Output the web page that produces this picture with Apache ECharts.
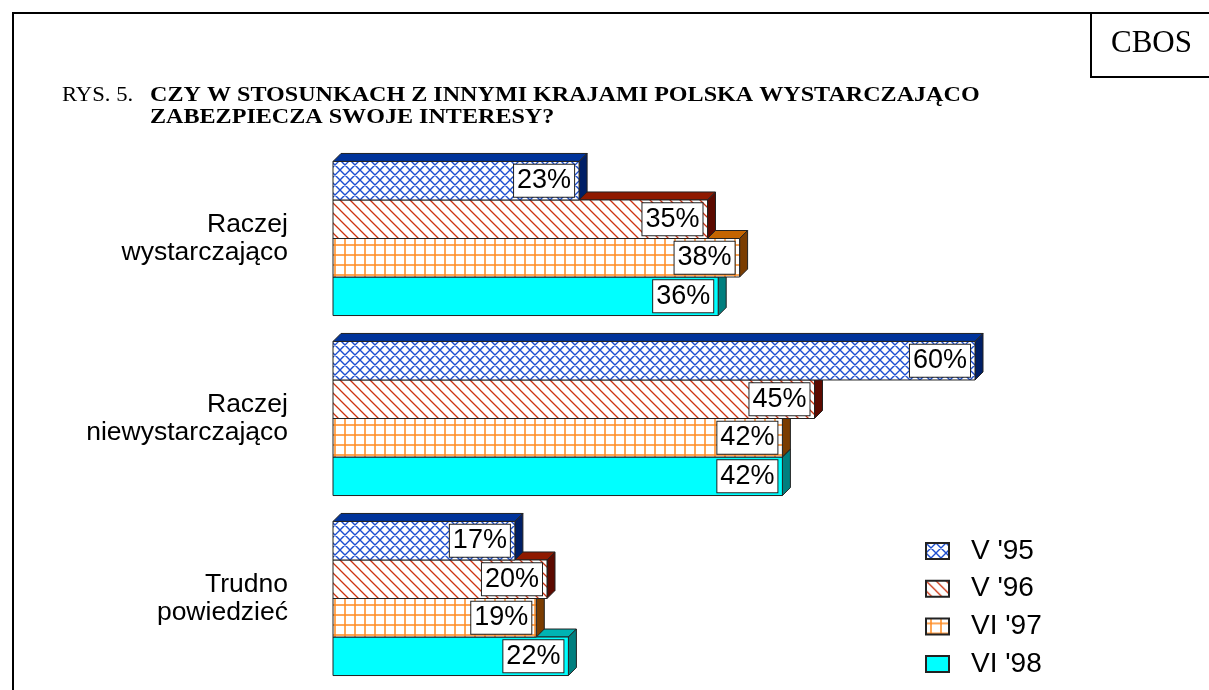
<!DOCTYPE html>
<html>
<head>
<meta charset="utf-8">
<script src="https://cdn.jsdelivr.net/npm/echarts@6/dist/echarts.min.js"></script>
<style>
  html, body { margin: 0; padding: 0; background: #fff; }
  #chart { width: 1209px; height: 690px; }
</style>
</head>
<body>
<div id="chart"></div>
<script>
// data
const categories = ['Raczej\nwystarczająco', 'Raczej\nniewystarczająco', 'Trudno\npowiedzieć'];
const seriesNames = ["V '95", "V '96", "VI '97", "VI '98"];
const v95 = [23, 60, 17];
const v96 = [35, 45, 20];
const vi97 = [38, 42, 19];
const vi98 = [36, 42, 22];

const SANS = "'Liberation Sans', Arial, sans-serif";
const SERIF = "'Liberation Serif', 'Times New Roman', serif";

// tiles for the hatched fills
function tile(w, h, draw) {
  const c = document.createElement('canvas');
  c.width = w; c.height = h;
  const ctx = c.getContext('2d');
  ctx.fillStyle = '#fff';
  ctx.fillRect(0, 0, w, h);
  draw(ctx);
  return { image: c, repeat: 'repeat' };
}

const crossFill = tile(10, 10, ctx => {
  ctx.strokeStyle = '#1d4fd0';
  ctx.lineWidth = 1.4;
  ctx.beginPath();
  for (let k = -1; k <= 1; k++) {
    ctx.moveTo(k * 10 - 1, -1); ctx.lineTo(k * 10 + 11, 11);
    ctx.moveTo(k * 10 + 11, -1); ctx.lineTo(k * 10 - 1, 11);
  }
  ctx.stroke();
});

const stripeFill = tile(10, 10, ctx => {
  ctx.strokeStyle = '#cc3311';
  ctx.lineWidth = 1.3;
  ctx.beginPath();
  for (let k = -1; k <= 1; k++) {
    ctx.moveTo(k * 10 - 1, -1); ctx.lineTo(k * 10 + 11, 11);
  }
  ctx.stroke();
});

const gridFill = tile(10, 10, ctx => {
  ctx.strokeStyle = '#ff8a1f';
  ctx.lineWidth = 1.5;
  ctx.beginPath();
  ctx.moveTo(5, 0); ctx.lineTo(5, 10);
  ctx.moveTo(0, 5); ctx.lineTo(10, 5);
  ctx.stroke();
});

const faces = [
  { fill: crossFill, top: '#00339a', side: '#001f66' },
  { fill: stripeFill, top: '#8f1a00', side: '#5c0a00' },
  { fill: gridFill, top: '#c46400', side: '#7a3c00' },
  { fill: '#00ffff', top: '#00b3b3', side: '#007f7f' }
];

function makeSeries(k, values) {
  const f = faces[k];
  return {
    type: 'custom',
    name: seriesNames[k],
    z: 10 - k,
    itemStyle: { color: f.fill, borderColor: '#222', borderWidth: 1 },
    encode: { x: 0, y: 1 },
    data: values.map((v, i) => [v, i]),
    renderItem: (params, api) => {
      const v = api.value(0);
      const c = api.value(1);
      const p0 = api.coord([0, c]);
      const p1 = api.coord([v, c]);
      const band = api.size([0, 1])[1];
      const h = band * 0.856 / 4;
      const y0 = p0[1] - 2 * h + k * h;
      const x0 = p0[0], x1 = p1[0], d = 8;
      return {
        type: 'group',
        children: [
          {
            type: 'polygon',
            shape: { points: [[x0, y0], [x0 + d, y0 - d], [x1 + d, y0 - d], [x1, y0]] },
            style: { fill: f.top, stroke: '#222', lineWidth: 1 }
          },
          {
            type: 'polygon',
            shape: { points: [[x1, y0], [x1 + d, y0 - d], [x1 + d, y0 + h - d], [x1, y0 + h]] },
            style: { fill: f.side, stroke: '#222', lineWidth: 1 }
          },
          {
            type: 'rect',
            shape: { x: x0, y: y0, width: x1 - x0, height: h },
            style: { fill: f.fill, stroke: '#222', lineWidth: 1 }
          },
          {
            type: 'text',
            style: {
              text: v + '%',
              x: x1 - 5,
              y: y0 + h / 2,
              align: 'right',
              verticalAlign: 'middle',
              fontSize: 27,
              fontFamily: SANS,
              fill: '#000',
              backgroundColor: '#fff',
              borderColor: '#222',
              borderWidth: 1,
              padding: [3, 3, 2, 3]
            }
          }
        ]
      };
    }
  };
}

const chart = echarts.init(document.getElementById('chart'));
chart.setOption({
  backgroundColor: '#fff',
  animation: false,
  grid: { left: 333, width: 642, top: 148.5, height: 540 },
  xAxis: { type: 'value', min: 0, max: 60, show: false },
  yAxis: {
    type: 'category',
    data: categories,
    inverse: true,
    axisLine: { show: false },
    axisTick: { show: false },
    splitLine: { show: false },
    axisLabel: { color: '#000', fontSize: 26.5, lineHeight: 28, fontFamily: SANS, margin: 45 }
  },
  legend: {
    orient: 'vertical',
    left: 925,
    top: 536,
    padding: 0,
    icon: 'rect',
    itemWidth: 23,
    itemHeight: 16,
    itemGap: 7.7,
    selectedMode: false,
    data: seriesNames,
    textStyle: { color: '#000', fontSize: 28, lineHeight: 30, fontFamily: SANS, padding: [0, 0, 0, 17] }
  },
  graphic: [
    { type: 'rect', shape: { x: 13, y: 13, width: 1400, height: 1000 }, style: { fill: 'none', stroke: '#000', lineWidth: 2 } },
    { type: 'rect', shape: { x: 1091, y: 13, width: 200, height: 64 }, style: { fill: '#fff', stroke: '#000', lineWidth: 2 } },
    { type: 'text', x: 1111, y: 44, style: { text: 'CBOS', fontSize: 31, fontFamily: SERIF, fill: '#000', verticalAlign: 'middle' } },
    { type: 'text', x: 62, y: 95, scaleX: 1.03, style: { text: 'RYS. 5.', fontSize: 22, fontFamily: SERIF, fill: '#000', verticalAlign: 'middle' } },
    { type: 'text', x: 150, y: 95, scaleX: 1.095, style: { text: 'CZY W STOSUNKACH Z INNYMI KRAJAMI POLSKA WYSTARCZAJĄCO', fontSize: 22, fontWeight: 'bold', fontFamily: SERIF, fill: '#000', verticalAlign: 'middle' } },
    { type: 'text', x: 150, y: 117, scaleX: 1.095, style: { text: 'ZABEZPIECZA SWOJE INTERESY?', fontSize: 22, fontWeight: 'bold', fontFamily: SERIF, fill: '#000', verticalAlign: 'middle' } }
  ],
  series: [
    makeSeries(0, v95),
    makeSeries(1, v96),
    makeSeries(2, vi97),
    makeSeries(3, vi98)
  ]
});
</script>
</body>
</html>
